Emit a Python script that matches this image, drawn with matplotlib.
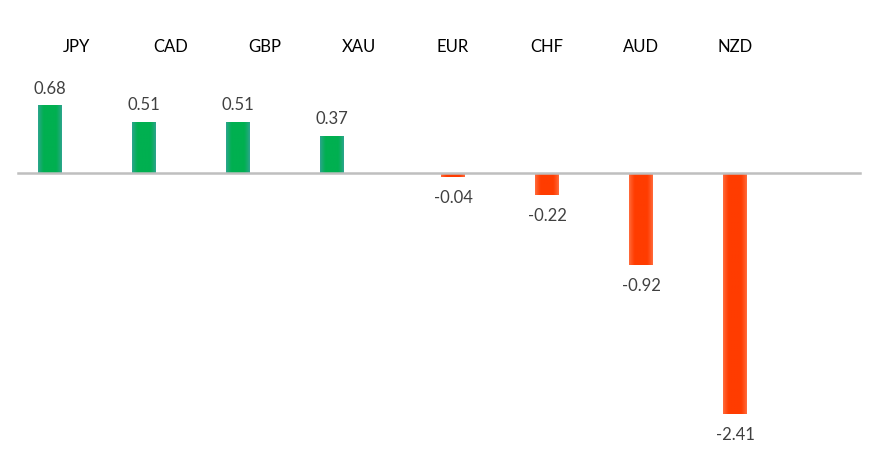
import matplotlib.pyplot as plt
import numpy as np
from matplotlib.colors import to_rgb

currencies = ["JPY", "CAD", "GBP", "XAU", "EUR", "CHF", "AUD", "NZD"]
changes = [0.68, 0.51, 0.51, 0.37, -0.04, -0.22, -0.92, -2.41]

plt.rcParams['font.family'] = ['Lato', 'DejaVu Sans']

fig = plt.figure(figsize=(8.75, 4.66), dpi=100)
ax = fig.add_axes([0, 0, 1, 1])
ax.set_xlim(-0.809, 8.5)
ax.set_ylim(-2.93, 1.73)
ax.axis('off')

idx = np.arange(len(currencies))
vals = np.array(changes)
# positive bars sit left of their label, negative ones under it
offsets = np.where(vals >= 0, -0.28, 0.01)
bars = ax.bar(idx + offsets, vals, width=0.255, color='none', zorder=2)


def glow(c_mid, c_edge, n=40):
    c_mid, c_edge = np.array(to_rgb(c_mid)), np.array(to_rgb(c_edge))
    u = np.abs(np.linspace(-1, 1, n))
    t = np.clip((u - 0.5) / 0.5, 0, 1) ** 1.3
    row = c_mid[None, :] * (1 - t[:, None]) + c_edge[None, :] * t[:, None]
    return row[None, :, :]


for b, v in zip(bars, vals):
    x0, w = b.get_x(), b.get_width()
    y0, h = b.get_y(), b.get_height()
    if v >= 0:
        img = glow('#00b050', '#2ca58c')
    else:
        img = glow('#ff3c00', '#ff6a3a')
    ax.imshow(img, extent=[x0, x0 + w, y0, y0 + h], aspect='auto',
              interpolation='bilinear', zorder=2)

ax.axhline(0, color='#bfbfbf', lw=1.8, xmin=(-0.62 + 0.809) / 9.309,
           xmax=(8.34 + 0.809) / 9.309, zorder=3)

for i, name in enumerate(currencies):
    ax.text(i + 0.01, 1.26, name, ha='center', va='center', fontsize=12, color='#000000')

for b, v in zip(bars, vals):
    cx = b.get_x() + b.get_width() / 2
    if v >= 0:
        ax.text(cx, v + 0.165, f"{v:.2f}", ha='center', va='center',
                fontsize=12, color='#404040')
    else:
        ax.text(cx, v - 0.21, f"{v:.2f}", ha='center', va='center',
                fontsize=12, color='#404040')

fig.savefig('out.png', dpi=100)
